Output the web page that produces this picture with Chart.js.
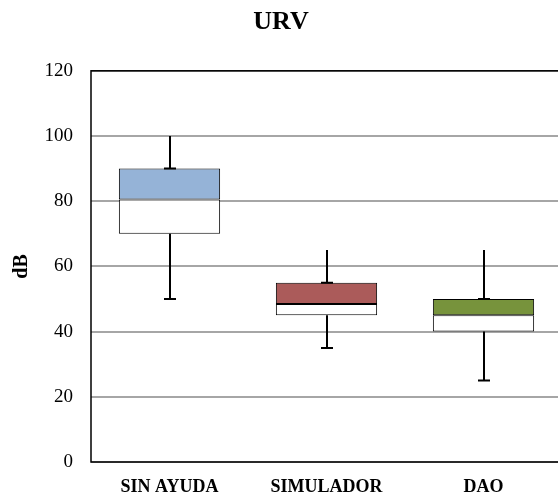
<!DOCTYPE html>
<html>
<head>
<meta charset="utf-8">
<script src="https://cdn.jsdelivr.net/npm/chart.js@4"></script>
<style>
  html, body { margin: 0; padding: 0; background: #fff; overflow: hidden; }
  #wrap { width: 572px; height: 500px; }
</style>
</head>
<body>
<div id="wrap"><canvas id="boxChart"></canvas></div>
<script>
// box plot values (dB)
const categories = ['SIN AYUDA', 'SIMULADOR', 'DAO'];
const minValues = [50, 35, 25];
const q1Values = [70, 45, 40];
const medianValues = [80.5, 48.5, 45];
const q3Values = [90, 55, 50];
const maxValues = [100, 65, 65];
const boxColors = ['#95b3d7', '#ab5b5a', '#77933c'];
const yTicks = [0, 20, 40, 60, 80, 100, 120];

// whiskers + plot border drawn through the chart's scales
const whiskerPlugin = {
  id: 'whiskers',
  beforeDatasetsDraw(chart) {
    const { ctx, chartArea } = chart;
    ctx.save();
    ctx.strokeStyle = '#000';
    ctx.lineWidth = 1.5;
    ctx.strokeRect(chartArea.left, chartArea.top, chartArea.right - chartArea.left, chartArea.bottom - chartArea.top);
    ctx.restore();
  },
  afterDatasetsDraw(chart) {
    const { ctx, scales } = chart;
    const x = scales.x, y = scales.y;
    ctx.save();
    ctx.strokeStyle = '#000';
    ctx.lineWidth = 2;
    const cap = 6;
    categories.forEach((c, i) => {
      const cx = Math.round(x.getPixelForValue(i));
      const pMax = y.getPixelForValue(maxValues[i]);
      const pQ3 = y.getPixelForValue(q3Values[i]);
      const pQ1 = y.getPixelForValue(q1Values[i]);
      const pMin = y.getPixelForValue(minValues[i]);
      ctx.beginPath();
      ctx.moveTo(cx, pMax); ctx.lineTo(cx, pQ3);
      ctx.moveTo(cx - cap, pQ3); ctx.lineTo(cx + cap, pQ3);
      ctx.moveTo(cx, pQ1); ctx.lineTo(cx, pMin);
      ctx.moveTo(cx - cap, pMin); ctx.lineTo(cx + cap, pMin);
      ctx.stroke();
    });
    ctx.restore();
  }
};

const ctx = document.getElementById('boxChart').getContext('2d');
const boxChart = new Chart(ctx, {
  type: 'bar',
  data: {
    labels: categories,
    datasets: [
      {
        label: 'Q1-Mediana',
        data: categories.map((c, i) => [q1Values[i], medianValues[i]]),
        backgroundColor: '#ffffff',
        borderColor: '#000',
        borderWidth: 1,
        borderSkipped: false,
        grouped: false,
        categoryPercentage: 1,
        barPercentage: 0.645
      },
      {
        label: 'Mediana-Q3',
        data: categories.map((c, i) => [medianValues[i], q3Values[i]]),
        backgroundColor: boxColors,
        borderColor: '#000',
        borderWidth: 1,
        borderSkipped: false,
        grouped: false,
        categoryPercentage: 1,
        barPercentage: 0.645
      }
    ]
  },
  options: {
    responsive: true,
    maintainAspectRatio: false,
    animation: false,
    layout: { padding: { left: 0, right: 10, top: 0, bottom: 0 } },
    plugins: {
      legend: { display: false },
      tooltip: { enabled: false },
      title: {
        display: true,
        text: 'URV',
        color: '#000',
        font: { family: 'Liberation Serif', size: 26, weight: 'bold' },
        padding: { top: 7, bottom: 32.6 }
      }
    },
    scales: {
      x: {
        afterFit(axis) { axis.height = 38; },
        grid: { display: false },
        border: { display: false },
        ticks: {
          color: '#000',
          padding: 7,
          font: { family: 'Liberation Serif', size: 18, weight: 'bold' }
        }
      },
      y: {
        min: 0,
        max: 120,
        afterFit(axis) { axis.width = 91; },
        afterBuildTicks(axis) { axis.ticks = yTicks.map(v => ({ value: v })); },
        grid: { color: '#a6a6a6', lineWidth: 2, drawTicks: false },
        border: { display: false },
        ticks: {
          color: '#000',
          padding: 18,
          font: { family: 'Liberation Serif', size: 19 }
        },
        title: {
          display: true,
          text: 'dB',
          color: '#000',
          padding: { top: 10, bottom: 0 },
          font: { family: 'Liberation Serif', size: 20, weight: 'bold' }
        }
      }
    }
  },
  plugins: [whiskerPlugin]
});
</script>
</body>
</html>
